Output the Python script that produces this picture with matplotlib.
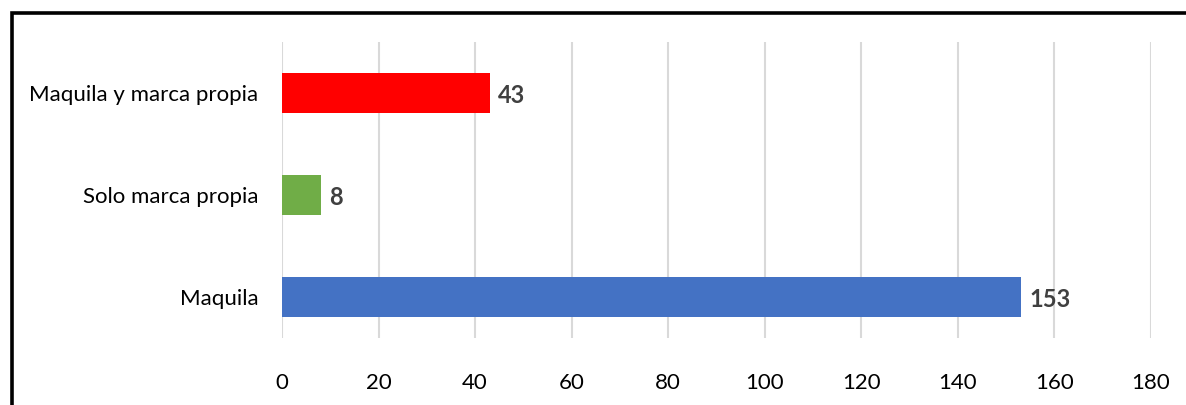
import matplotlib.pyplot as plt
from matplotlib.patches import Rectangle

categories = ["Maquila", "Solo marca propia", "Maquila y marca propia"]
values = [153, 8, 43]
colors = ["#4472C4", "#70AD47", "#FF0000"]
xticks = [0, 20, 40, 60, 80, 100, 120, 140, 160, 180]

plt.rcParams["font.family"] = ["Lato", "DejaVu Sans"]

fig = plt.figure(figsize=(11.86, 4.05), dpi=100)
ax = fig.add_axes([0.2378, 0.1654, 0.7327, 0.7309])

pos = list(range(len(categories)))
ax.barh(pos, values, height=0.39, color=colors, zorder=3)

for p, v in zip(pos, values):
    ax.annotate(str(v), (v, p), xytext=(6, -2), textcoords="offset points",
                va="center", ha="left", fontsize=17, fontweight="bold",
                color="#404040")

ax.set_xlim(0, 180)
ax.set_ylim(-0.4, 2.5)
ax.set_xticks(xticks)
ax.set_yticks(pos)
ax.set_yticklabels(categories)
ax.tick_params(axis="x", length=0, pad=25.5, labelsize=16, colors="black")
ax.tick_params(axis="y", length=0, pad=17, labelsize=16, colors="black")
ax.grid(axis="x", color="#D9D9D9", linewidth=1.5, zorder=0)
for s in ax.spines.values():
    s.set_visible(False)

# outer chart border (cut off at right and bottom in the original)
fig.patches.append(Rectangle((0.0098, -0.2), 1.5, 0.2 + 0.967, transform=fig.transFigure,
                             fill=False, edgecolor="black", linewidth=2.6))

fig.savefig("out.png", dpi=100)
